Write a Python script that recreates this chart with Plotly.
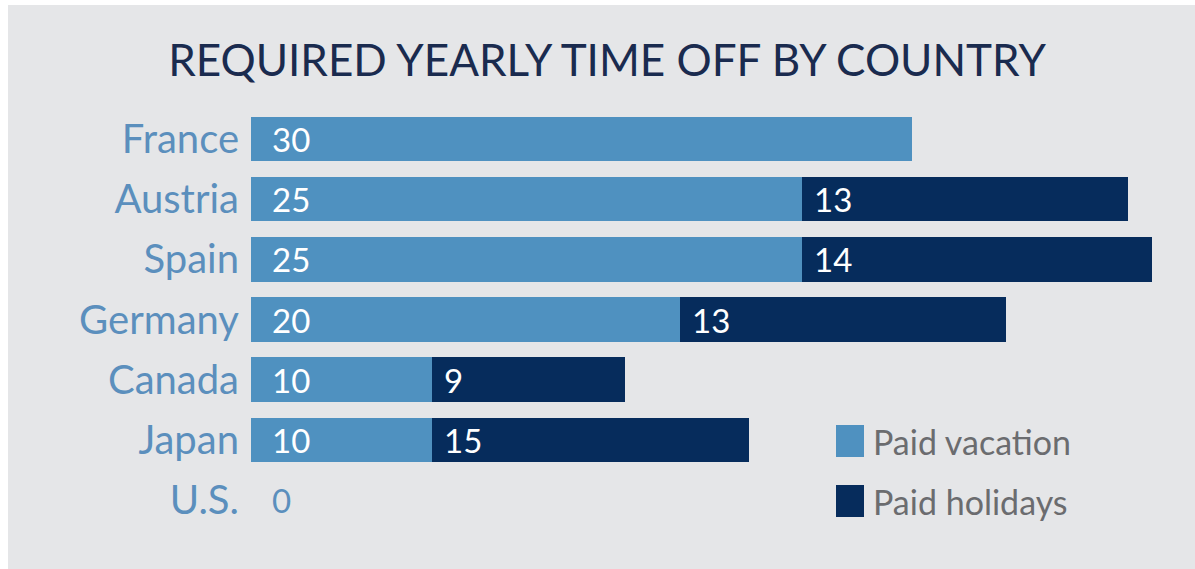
import plotly.graph_objects as go

# ---- data ----
countries = ["France", "Austria", "Spain", "Germany", "Canada", "Japan", "U.S."]
vacation_days = [30, 25, 25, 20, 10, 10, 0]          # printed values
holiday_days = [None, 13, 14, 13, 9, 15, None]       # printed values
# bar lengths as drawn in the picture (days, on the chart's own scale)
vacation_bar = [30, 25, 25, 19.5, 8.2, 8.2, 0]
holiday_bar = [0, 14.8, 15.9, 14.8, 8.8, 14.4, 0]
series_names = ["Paid vacation", "Paid holidays"]

# ---- style ----
OX, OY = 8, 5                     # page offset of the figure
W, H = 1195 - OX, 569 - OY
L, R, T, B = 251 - OX, 19, 109 - OY, 39
PW, PH = W - L - R, H - T - B
XMAX = 42
BG = "#e5e6e8"
LIGHT = "#4f91c0"
DARK = "#062c5c"
TITLE_C = "#1a2b4f"
CAT_C = "#5b8fbd"
LEG_C = "#6b6c6f"
FONT = "Lato"


def px(xs):
    return (xs - OX - L) / PW


def py(ys):
    return (H - B - (ys - OY)) / PH


fig = go.Figure()
fig.add_trace(go.Bar(y=countries, x=vacation_bar, orientation="h", name=series_names[0],
                     marker=dict(color=LIGHT, line=dict(width=0)), hoverinfo="skip"))
fig.add_trace(go.Bar(y=countries, x=holiday_bar, orientation="h", name=series_names[1],
                     marker=dict(color=DARK, line=dict(width=0)), hoverinfo="skip"))

annotations = []
for i, c in enumerate(countries):
    v = vacation_days[i]
    annotations.append(dict(x=0, y=c, xref="x", yref="y", text=str(v), showarrow=False,
                            xanchor="left", yanchor="middle", xshift=19,
                            font=dict(family=FONT, size=33,
                                      color="white" if vacation_bar[i] > 0 else CAT_C)))
    h = holiday_days[i]
    if h is not None:
        annotations.append(dict(x=vacation_bar[i], y=c, xref="x", yref="y", text=str(h),
                                showarrow=False, xanchor="left", yanchor="middle", xshift=10,
                                font=dict(family=FONT, size=33, color="white")))

# legend (drawn manually)
shapes = []
for k, (col, ytop) in enumerate([(LIGHT, 425), (DARK, 485)]):
    shapes.append(dict(type="rect", xref="paper", yref="paper", x0=px(836), x1=px(864),
                       y0=py(ytop + 32), y1=py(ytop), fillcolor=col, line=dict(width=0)))
    annotations.append(dict(x=px(871), y=py(ytop + 16), xref="paper", yref="paper",
                            text=series_names[k], showarrow=False, xanchor="left",
                            yanchor="middle", font=dict(family=FONT, size=34, color=LEG_C)))

fig.update_layout(
    width=W, height=H,
    margin=dict(l=L, r=R, t=T, b=B, pad=0),
    paper_bgcolor=BG, plot_bgcolor=BG,
    barmode="stack", bargap=0.26, showlegend=False,
    title=dict(text="REQUIRED YEARLY TIME OFF BY COUNTRY", x=(607 - OX) / W, xanchor="center",
               y=1 - (61 - OY) / H, yanchor="middle", yref="container",
               font=dict(family=FONT, size=44, color=TITLE_C)),
    xaxis=dict(range=[0, XMAX], visible=False, fixedrange=True),
    yaxis=dict(categoryorder="array", categoryarray=countries, autorange="reversed",
               showgrid=False, zeroline=False, showline=False, ticks="",
               ticklabelstandoff=11,
               tickfont=dict(family=FONT, size=40, color=CAT_C)),
    shapes=shapes, annotations=annotations,
)

fig.write_html("out.html",
               post_script="document.body.style.margin='5px 0 0 8px';"
                           "document.body.style.overflow='hidden';")
